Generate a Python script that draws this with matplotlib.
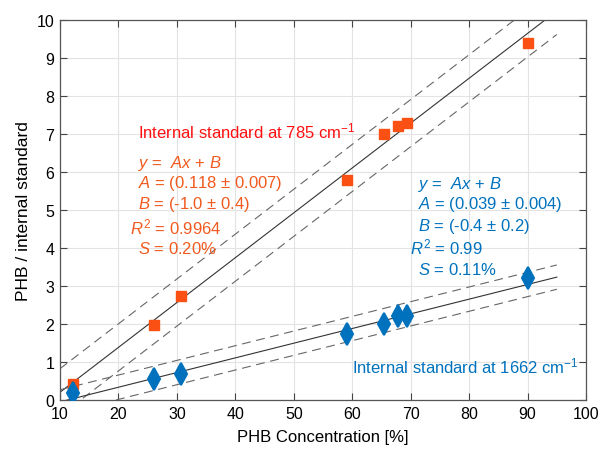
import matplotlib
matplotlib.use('Agg')
import matplotlib.pyplot as plt
import numpy as np

plt.rcParams['font.family'] = ['Liberation Sans', 'DejaVu Sans']
plt.rcParams['mathtext.fontset'] = 'custom'
plt.rcParams['mathtext.rm'] = 'Liberation Sans'
plt.rcParams['mathtext.it'] = 'Liberation Sans:italic'

# PHB concentration [%]
conc = [12.2, 26.1, 30.7, 59.1, 65.4, 67.8, 69.3, 90.0]
# ratio to internal standard at 785 cm-1
ratio_785 = [0.42, 1.97, 2.75, 5.8, 7.0, 7.2, 7.3, 9.4]
# ratio to internal standard at 1662 cm-1
ratio_1662 = [0.18, 0.55, 0.68, 1.75, 2.0, 2.2, 2.2, 3.2]

# half-width of dashed bands
band_785 = 0.62
band_1662 = 0.32
fit_range = [10, 95]

orange = '#FA5014'
orange_txt = '#F05A1E'
red_txt = '#FF1010'
blue = '#0072BD'

fig = plt.figure(figsize=(5.98, 4.52), dpi=100)
ax = fig.add_axes([0.1003, 0.1128, 0.8797, 0.8407])

xx = np.array(fit_range, dtype=float)
for y, band in [(ratio_785, band_785), (ratio_1662, band_1662)]:
    a, b = np.polyfit(conc, y, 1)
    ax.plot(xx, a * xx + b, color='#333333', lw=0.8, zorder=2)
    ax.plot(xx, a * xx + b + band, color='#666666', lw=0.8, ls=(0, (8, 5)), zorder=2)
    ax.plot(xx, a * xx + b - band, color='#666666', lw=0.8, ls=(0, (8, 5)), zorder=2)

ax.plot(conc, ratio_785, 's', color=orange, ms=7.5, zorder=3)
ax.plot(conc, ratio_1662, 'd', color=blue, ms=11, mew=1.5, zorder=3)

ax.set_xlim(10, 100)
ax.set_ylim(0, 10)
ax.set_xticks(range(10, 101, 10))
ax.set_yticks(range(0, 11))
ax.grid(True, color='#e3e3e3', lw=0.8)
ax.set_axisbelow(True)
ax.tick_params(direction='in', top=True, right=True, labelsize=11.5, length=5,
               color='#444444', pad=4)
for s in ax.spines.values():
    s.set_color('#555555')
    s.set_linewidth(0.9)

ax.set_xlabel('PHB Concentration [%]', fontsize=12, labelpad=6)
ax.set_ylabel('PHB / internal standard', fontsize=12.5, labelpad=4)

fs = 12
ax.text(23.3, 7.1, r'Internal standard at 785 cm$^{\mathregular{-1}}$', color=red_txt, fontsize=fs, va='center')
ax.text(23.3, 6.26, r'$y$ =  $Ax$ + $B$', color=orange_txt, fontsize=fs, va='center')
ax.text(23.3, 5.72, r'$A$ = (0.118 ± 0.007)', color=orange_txt, fontsize=fs, va='center')
ax.text(23.3, 5.18, r'$B$ = (-1.0 ± 0.4)', color=orange_txt, fontsize=fs, va='center')
ax.text(22.0, 4.58, r'$R^{\mathregular{2}}$ = 0.9964', color=orange_txt, fontsize=fs, va='center')
ax.text(23.3, 4.0, r'$S$ = 0.20%', color=orange_txt, fontsize=fs, va='center')

ax.text(71.2, 5.71, r'$y$ =  $Ax$ + $B$', color=blue, fontsize=fs, va='center')
ax.text(71.2, 5.16, r'$A$ = (0.039 ± 0.004)', color=blue, fontsize=fs, va='center')
ax.text(71.2, 4.6, r'$B$ = (-0.4 ± 0.2)', color=blue, fontsize=fs, va='center')
ax.text(69.9, 4.03, r'$R^{\mathregular{2}}$ = 0.99', color=blue, fontsize=fs, va='center')
ax.text(71.2, 3.45, r'$S$ = 0.11%', color=blue, fontsize=fs, va='center')
ax.text(59.9, 0.9, r'Internal standard at 1662 cm$^{\mathregular{-1}}$', color=blue, fontsize=fs, va='center')

fig.savefig('out.png', dpi=100)
